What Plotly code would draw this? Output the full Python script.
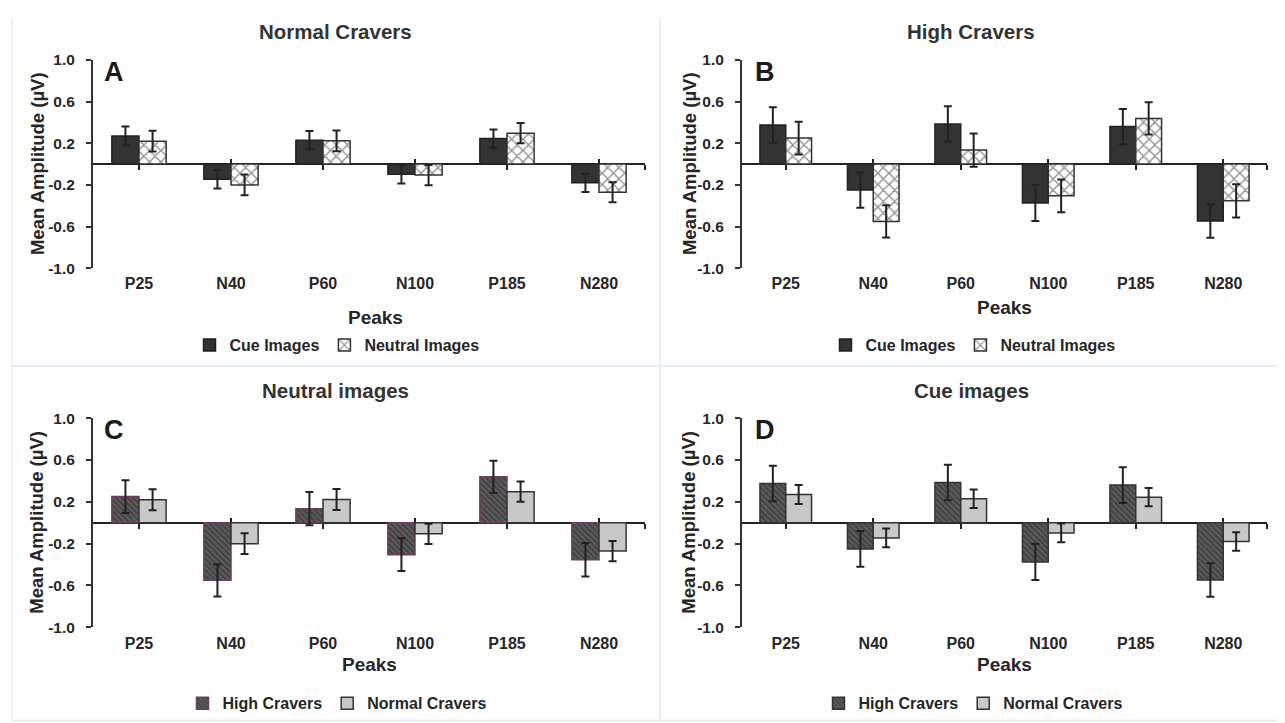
import plotly.graph_objects as go

# ---------------- data ----------------
peaks = ["P25", "N40", "P60", "N100", "P185", "N280"]

normal_cue = [0.27, -0.145, 0.23, -0.097, 0.245, -0.18]
normal_cue_err = [0.09, 0.09, 0.088, 0.09, 0.088, 0.088]
normal_neutral = [0.22, -0.20, 0.223, -0.106, 0.297, -0.271]
normal_neutral_err = [0.10, 0.10, 0.10, 0.097, 0.097, 0.097]

high_cue = [0.375, -0.25, 0.385, -0.375, 0.36, -0.548]
high_cue_err = [0.17, 0.17, 0.17, 0.173, 0.17, 0.16]
high_neutral = [0.25, -0.551, 0.135, -0.305, 0.439, -0.353]
high_neutral_err = [0.157, 0.155, 0.16, 0.157, 0.154, 0.16]

y_ticks = [-1.0, -0.6, -0.2, 0.2, 0.6, 1.0]
y_ticktext = [f"{v:.1f}" for v in y_ticks]

# ---------------- layout helpers ----------------
W, H = 1285, 723
FONT = "Liberation Sans, Arial, Helvetica, sans-serif"
TXT = "#262626"


def px(x):
    # screen x -> paper fraction (page offsets the figure by 8px)
    return (x - 8) / W


def py(y):
    # screen y -> paper fraction (page offset/scale measured on the rendered output)
    return 1 - ((y - 17) / 0.976) / H


panels = [
    dict(k=1, title="Normal Cravers", letter="A", xr=(93, 645), yr=(60, 268),
         leg=(337, 345), peaks=(375, 317), ytx=37, title_pos=(335, 31), letter_pos=(102, 72)),
    dict(k=2, title="High Cravers", letter="B", xr=(742, 1267), yr=(60, 268),
         leg=(973, 345), peaks=(1004, 307), ytx=689, title_pos=(971, 31), letter_pos=(753, 72)),
    dict(k=3, title="Neutral images", letter="C", xr=(93, 645), yr=(418, 627),
         leg=(337, 703), peaks=(369, 664), ytx=37, title_pos=(335, 390), letter_pos=(102, 430)),
    dict(k=4, title="Cue images", letter="D", xr=(742, 1267), yr=(418, 627),
         leg=(973, 703), peaks=(1004, 664), ytx=689, title_pos=(971, 390), letter_pos=(753, 430)),
]

DARK = "#333333"
cross = dict(shape="x", fgcolor="#2a2a2a", bgcolor="white", size=8, solidity=0.33)
diag = dict(shape="\\", fgcolor="#222222", bgcolor="#5c5c5c", size=4, solidity=0.45)

series = {
    1: [("Cue Images", normal_cue, normal_cue_err, dict(color=DARK, line=dict(color="#222", width=1.5))),
        ("Neutral Images", normal_neutral, normal_neutral_err,
         dict(color="white", pattern=cross, line=dict(color="#333", width=1.5)))],
    2: [("Cue Images", high_cue, high_cue_err, dict(color=DARK, line=dict(color="#222", width=1.5))),
        ("Neutral Images", high_neutral, high_neutral_err,
         dict(color="white", pattern=cross, line=dict(color="#333", width=1.5)))],
    3: [("High Cravers", high_neutral, high_neutral_err,
         dict(color="#5c5c5c", pattern=diag, line=dict(color="#6e3b63", width=1.5))),
        ("Normal Cravers", normal_neutral, normal_neutral_err,
         dict(color="#c8c8c8", line=dict(color="#333", width=1.5)))],
    4: [("High Cravers", high_cue, high_cue_err,
         dict(color="#5c5c5c", pattern=diag, line=dict(color="#333", width=1.5))),
        ("Normal Cravers", normal_cue, normal_cue_err,
         dict(color="#c8c8c8", line=dict(color="#333", width=1.5)))],
}

fig = go.Figure()
layout = dict(
    width=W, height=H, autosize=False,
    margin=dict(l=0, r=0, t=0, b=0),
    paper_bgcolor="white", plot_bgcolor="rgba(0,0,0,0)",
    barmode="group", bargap=0.41, bargroupgap=0.0,
    font=dict(family=FONT, color=TXT),
    showlegend=True,
)
annotations = []
xpos = list(range(len(peaks)))

for p in panels:
    k = p["k"]
    sfx = "" if k == 1 else str(k)
    xd = [px(p["xr"][0]), px(p["xr"][1])]
    yd = [py(p["yr"][1]), py(p["yr"][0])]
    legname = "legend" if k == 1 else f"legend{k}"

    for name, vals, errs, marker in series[k]:
        fig.add_trace(go.Bar(
            x=xpos, y=vals, name=name, marker=marker,
            error_y=dict(type="data", array=errs, thickness=2, width=4, color="#222"),
            xaxis=f"x{sfx}", yaxis=f"y{sfx}", legend=legname, hoverinfo="skip",
        ))

    layout[f"xaxis{sfx}"] = dict(
        domain=xd, anchor=f"y{sfx}", range=[-0.5, len(peaks) - 0.5],
        tickvals=xpos, ticktext=peaks, showline=False, showgrid=False, zeroline=False,
        ticks="outside", ticklen=1, tickcolor="rgba(0,0,0,0)",
        tickfont=dict(size=16, family=FONT, color=TXT, weight="bold"), fixedrange=True,
    )
    layout[f"yaxis{sfx}"] = dict(
        domain=yd, anchor=f"x{sfx}", range=[-1, 1],
        tickvals=y_ticks, ticktext=y_ticktext, showline=True, linecolor="#333", linewidth=2,
        ticks="outside", ticklen=5, tickwidth=1.5, tickcolor="#333", ticklabelstandoff=8,
        showgrid=False, zeroline=False,
        tickfont=dict(size=15.5, family=FONT, color=TXT, weight="bold"), fixedrange=True,
    )

    # zero line (category axis crossing at 0) with cross tick marks
    zero_pos = (yd[0] + yd[1]) / 2
    for j, direction in enumerate(["outside", "inside"]):
        ak = 4 + k + 4 * j
        fig.add_trace(go.Scatter(x=[0], y=[0], mode="markers", marker=dict(opacity=0),
                                 xaxis=f"x{ak}", yaxis=f"y{sfx}", showlegend=False,
                                 hoverinfo="skip"))
        layout[f"xaxis{ak}"] = dict(
            domain=xd, overlaying=f"x{sfx}" if sfx else "x", anchor="free", position=zero_pos,
            range=[-0.5, len(peaks) - 0.5], tickvals=xpos + [len(peaks) - 0.5],
            showticklabels=False, ticks=direction, ticklen=5, tickwidth=1.5, tickcolor="#222",
            showline=(j == 0), linecolor="#222", linewidth=2,
            showgrid=False, zeroline=False, layer="below traces", fixedrange=True,
        )

    layout[legname] = dict(
        orientation="h", x=px(p["leg"][0]), y=py(p["leg"][1]), xanchor="center", yanchor="middle",
        font=dict(size=16, family=FONT, color=TXT, weight="bold"), itemwidth=30,
        bgcolor="rgba(0,0,0,0)", traceorder="normal",
    )

    annotations += [
        dict(text=p["title"], x=px(p["title_pos"][0]), y=py(p["title_pos"][1]),
             xref="paper", yref="paper", showarrow=False, xanchor="center", yanchor="middle",
             font=dict(size=20.5, family=FONT, color="#333", weight="bold")),
        dict(text=p["letter"], x=px(p["letter_pos"][0]), y=py(p["letter_pos"][1]),
             xref="paper", yref="paper", showarrow=False, xanchor="left", yanchor="middle",
             font=dict(size=27, family=FONT, color="#1a1a1a", weight="bold")),
        dict(text="Peaks", x=px(p["peaks"][0]), y=py(p["peaks"][1]),
             xref="paper", yref="paper", showarrow=False, xanchor="center", yanchor="middle",
             font=dict(size=19, family=FONT, color=TXT, weight="bold")),
        dict(text="Mean Amplitude (µV)", x=px(p["ytx"]), y=(yd[0] + yd[1]) / 2,
             textangle=-90,
             xref="paper", yref="paper", showarrow=False, xanchor="center", yanchor="middle",
             font=dict(size=18.5, family=FONT, color=TXT, weight="bold")),
    ]

# panel frame lines
BL = "#dde8f2"
top = 1.0
shapes = [
    dict(type="line", xref="paper", yref="paper", x0=px(12), x1=px(12), y0=py(720), y1=top,
         line=dict(color=BL, width=1.2)),
    dict(type="line", xref="paper", yref="paper", x0=px(1281), x1=px(1281), y0=py(720), y1=top,
         line=dict(color=BL, width=1.2)),
    dict(type="line", xref="paper", yref="paper", x0=px(12), x1=px(1281), y0=py(720), y1=py(720),
         line=dict(color=BL, width=1.2)),
    dict(type="line", xref="paper", yref="paper", x0=px(660), x1=px(660), y0=py(720), y1=top,
         line=dict(color=BL, width=1.5)),
    dict(type="line", xref="paper", yref="paper", x0=px(12), x1=px(1281), y0=py(366), y1=py(366),
         line=dict(color=BL, width=1.5)),
]

layout["annotations"] = annotations
layout["shapes"] = shapes
fig.update_layout(**layout)
fig.write_html("out.html")
